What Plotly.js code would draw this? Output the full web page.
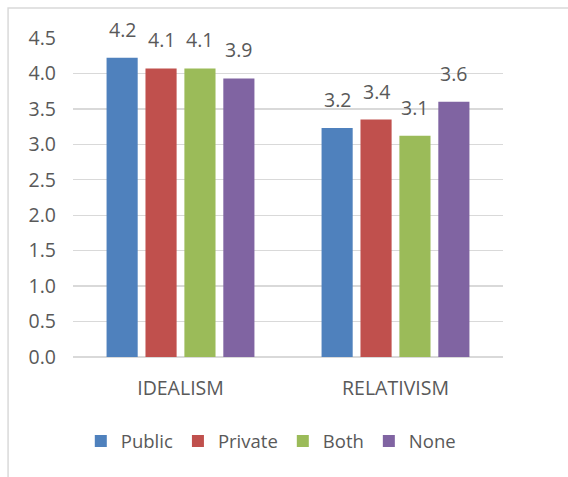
<!DOCTYPE html>
<html>
<head>
<meta charset="utf-8">
<script src="https://cdn.plot.ly/plotly-3.0.1.min.js"></script>
<style>
html,body{margin:0;padding:0;background:#fff;}
#chart{width:568px;height:477px;}
</style>
</head>
<body>
<div id="chart"></div>
<script>
const categories = ["IDEALISM", "RELATIVISM"];
const seriesNames = ["Public", "Private", "Both", "None"];
const publicVals = [4.22, 3.23];
const privateVals = [4.07, 3.35];
const bothVals = [4.07, 3.12];
const noneVals = [3.93, 3.60];
const colors = ["#4F81BD", "#C0504D", "#9BBB59", "#8064A2"];

const allVals = [publicVals, privateVals, bothVals, noneVals];
const FONT = "'Open Sans', sans-serif";
const FS = 19.5;
const GRAY = "#595959";
const bargap = 0.276;
const slot = (1 - bargap) / seriesNames.length;

const traces = seriesNames.map((name, i) => ({
  type: "bar",
  name: name,
  x: categories,
  y: allVals[i],
  marker: {color: colors[i]},
  hoverinfo: "x+y+name"
}));

const annotations = [];
allVals.forEach((vals, i) => {
  vals.forEach((v, j) => {
    annotations.push({
      x: j + (i - (seriesNames.length - 1) / 2) * slot,
      y: v,
      xref: "x", yref: "y",
      text: v.toFixed(1),
      showarrow: false,
      yanchor: "bottom",
      yshift: 13,
      font: {family: FONT, size: FS, color: GRAY}
    });
  });
});

const layout = {
  width: 568, height: 477,
  margin: {l: 73, r: 65, t: 38, b: 120},
  paper_bgcolor: "#fff", plot_bgcolor: "#fff",
  barmode: "group",
  bargap: bargap,
  bargroupgap: 0.2,
  font: {family: FONT, size: FS, color: GRAY},
  xaxis: {
    type: "category",
    showgrid: false,
    showline: false,
    zeroline: false,
    ticks: "",
    ticklabelstandoff: 17,
    tickfont: {family: FONT, size: FS, color: GRAY}
  },
  yaxis: {
    range: [0, 4.5],
    dtick: 0.5,
    tick0: 0,
    tickformat: ".1f",
    showgrid: true,
    gridcolor: "#D9D9D9",
    gridwidth: 1.3,
    zeroline: true,
    zerolinecolor: "#D9D9D9",
    zerolinewidth: 1.3,
    showline: false,
    ticks: "",
    ticklabelstandoff: 16,
    tickfont: {family: FONT, size: FS, color: GRAY}
  },
  showlegend: true,
  legend: {
    orientation: "h",
    x: 0.46, xanchor: "center",
    y: -0.265, yanchor: "middle",
    font: {family: FONT, size: 18.5, color: GRAY},
    itemclick: false
  },
  annotations: annotations,
  shapes: [{
    type: "rect", xref: "paper", yref: "paper",
    x0: -0.151, x1: 1.3, y0: -0.6, y1: 1.094,
    line: {color: "#D9D9D9", width: 1.5},
    fillcolor: "rgba(0,0,0,0)",
    layer: "below"
  }]
};

Plotly.newPlot("chart", traces, layout, {displayModeBar: false, staticPlot: true});
</script>
</body>
</html>
